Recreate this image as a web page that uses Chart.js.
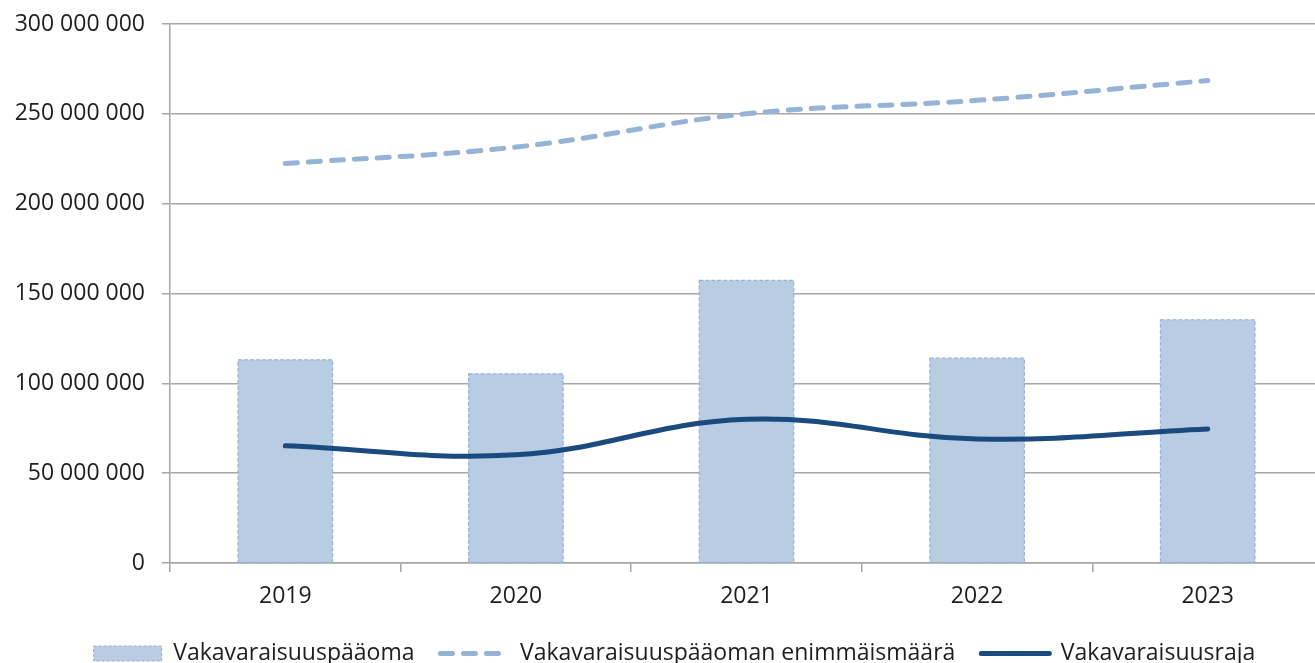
<!DOCTYPE html>
<html>
<head>
<meta charset="utf-8">
<script src="https://cdn.jsdelivr.net/npm/chart.js@4/dist/chart.umd.min.js"></script>
<style>
html,body{margin:0;padding:0;background:#fff;overflow:hidden;}
#wrap{position:absolute;left:0;top:0;width:1323px;height:675px;}
</style>
</head>
<body>
<div id="wrap"><canvas id="c"></canvas></div>
<script>
const years = ['2019', '2020', '2021', '2022', '2023'];
const capital = [113100000, 105300000, 157300000, 114000000, 135400000];
const capitalMax = [222300000, 231500000, 250000000, 257500000, 268500000];
const capitalReq = [65200000, 60200000, 80000000, 69000000, 74600000];
const yTicks = [0, 50000000, 100000000, 150000000, 200000000, 250000000, 300000000];
const seriesNames = ['Vakavaraisuuspääoma', 'Vakavaraisuuspääoman enimmäismäärä', 'Vakavaraisuusraja'];

const FONT = "'Open Sans', 'DejaVu Sans', sans-serif";
const TXT = '#1e1e1e';
const GRID = '#a6a6a6';
const BAR_FILL = '#b8cce4';
const BAR_EDGE = '#95b3d7';
const DASH_COL = '#95b3d7';
const SOLID_COL = '#1a4a7e';

function fmt(v) { return String(v).replace(/\B(?=(\d{3})+(?!\d))/g, ' '); }

const dashedBorder = {
  id: 'dashedBorder',
  afterDatasetDraw(chart, args) {
    if (args.index !== 0) return;
    const ctx = chart.ctx;
    ctx.save();
    ctx.strokeStyle = BAR_EDGE;
    ctx.lineWidth = 1.2;
    ctx.setLineDash([4, 2]);
    args.meta.data.forEach(b => {
      const p = b.getProps(['x', 'y', 'width', 'base'], true);
      ctx.strokeRect(p.x - p.width / 2, p.y, p.width, p.base - p.y);
    });
    ctx.restore();
  }
};

const legendShift = {
  id: 'legendShift',
  afterLayout(chart) {
    if (chart.legend) { chart.legend.left += 13; chart.legend.right += 13; }
  }
};

new Chart(document.getElementById('c'), {
  data: {
    labels: years,
    datasets: [
      {
        type: 'bar', label: seriesNames[0], data: capital, order: 3,
        backgroundColor: BAR_FILL, borderWidth: 0,
        categoryPercentage: 1.0, barPercentage: 0.41
      },
      {
        type: 'line', label: seriesNames[1], data: capitalMax, order: 2,
        borderColor: DASH_COL, borderWidth: 5, borderDash: [12, 11], borderCapStyle: 'round',
        pointRadius: 0, tension: 0.4, fill: false
      },
      {
        type: 'line', label: seriesNames[2], data: capitalReq, order: 1,
        borderColor: SOLID_COL, borderWidth: 5, borderCapStyle: 'round',
        pointRadius: 0, tension: 0.4, fill: false
      }
    ]
  },
  options: {
    responsive: true, maintainAspectRatio: false, animation: false,
    devicePixelRatio: 1,
    layout: { padding: { top: 24, left: 0, right: 0, bottom: 0 } },
    plugins: {
      tooltip: { enabled: false },
      legend: {
        position: 'bottom',
        labels: {
          usePointStyle: true, pointStyleWidth: 68, boxHeight: 15,
          padding: 26, color: TXT,
          font: { family: FONT, size: 23 },
          generateLabels(chart) {
            return [
              { text: seriesNames[0], datasetIndex: 0, pointStyle: 'rect', fillStyle: BAR_FILL, strokeStyle: BAR_EDGE, lineWidth: 1, lineDash: [3, 2], fontColor: TXT },
              { text: seriesNames[1], datasetIndex: 1, pointStyle: 'line', fillStyle: DASH_COL, strokeStyle: DASH_COL, lineWidth: 5, lineDash: [12, 11], lineCap: 'round', fontColor: TXT },
              { text: seriesNames[2], datasetIndex: 2, pointStyle: 'line', fillStyle: SOLID_COL, strokeStyle: SOLID_COL, lineWidth: 5, lineCap: 'round', fontColor: TXT }
            ];
          }
        }
      }
    },
    scales: {
      x: {
        type: 'category', offset: true,
        grid: { offset: true, drawOnChartArea: false, drawTicks: true, tickLength: 9, color: GRID, lineWidth: 1.5 },
        border: { color: GRID, width: 1.5 },
        ticks: { color: TXT, font: { family: FONT, size: 23 }, padding: 11, maxRotation: 0 },
        afterFit(s) { s.height = 53; }
      },
      y: {
        min: 0, max: 300000000,
        afterBuildTicks(s) { s.ticks = yTicks.map(v => ({ value: v })); },
        grid: { color: GRID, lineWidth: 1.5, drawTicks: true, tickLength: 8 },
        border: { color: GRID, width: 1.5 },
        ticks: { color: TXT, font: { family: FONT, size: 23 }, padding: 17, callback: v => fmt(v) },
        afterFit(s) { s.width = 170; s.paddingTop = 0; s.paddingBottom = 0; }
      }
    }
  },
  plugins: [dashedBorder, legendShift]
});
</script>
</body>
</html>
